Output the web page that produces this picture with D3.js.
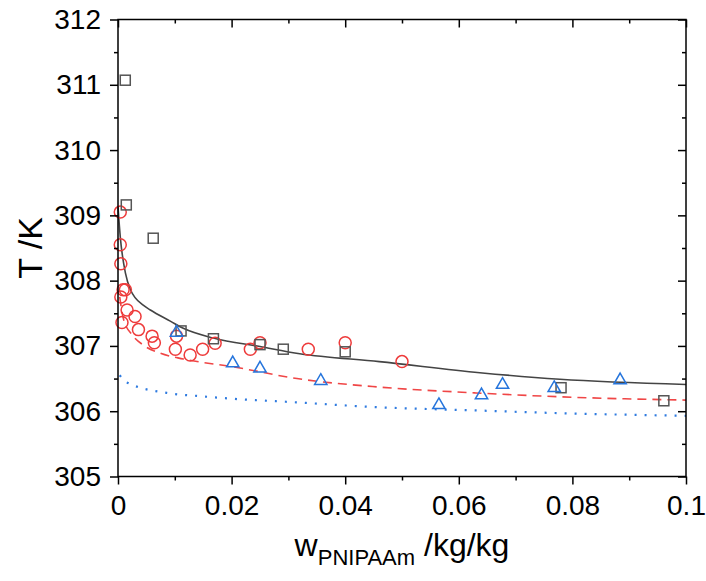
<!DOCTYPE html>
<html>
<head>
<meta charset="utf-8">
<script src="https://cdn.jsdelivr.net/npm/d3@7"></script>
<style>
  body { margin: 0; background: #fff; }
  text { font-family: Arial, "Liberation Sans", sans-serif; }
</style>
</head>
<body>
<div id="chart"></div>
<script>
const squareX = [0.00128, 0.00146, 0.0062, 0.0111, 0.0168, 0.025, 0.0291, 0.040, 0.078, 0.0961]
const squareT = [311.07, 309.16, 308.65, 307.23, 307.11, 307.02, 306.95, 306.91, 306.36, 306.16]

const circleX = [0.0004, 0.0004, 0.0005, 0.0009, 0.0013, 0.0005, 0.0016, 0.003, 0.0007, 0.0036, 0.006, 0.0064, 0.0103, 0.0101, 0.0127, 0.0149, 0.0171, 0.0233, 0.025, 0.0335, 0.040, 0.050]
const circleT = [309.05, 308.55, 308.26, 307.86, 307.86, 307.75, 307.55, 307.45, 307.36, 307.25, 307.15, 307.05, 307.15, 306.95, 306.86, 306.95, 307.04, 306.95, 307.05, 306.95, 307.05, 306.76]

const triX = [0.0103, 0.0202, 0.025, 0.0357, 0.0565, 0.064, 0.0677, 0.0768, 0.0884]
const triT = [307.22, 306.75, 306.67, 306.48, 306.11, 306.26, 306.42, 306.37, 306.49]

// model curves
const solidX = [0, 0.0004, 0.0013, 0.0022, 0.0045, 0.0057, 0.0092, 0.0115, 0.0168, 0.025, 0.032, 0.046, 0.0637, 0.0778, 0.1]
const solidT = [309.13, 308.67, 308.12, 307.86, 307.62, 307.55, 307.38, 307.27, 307.12, 306.99, 306.88, 306.76, 306.59, 306.49, 306.41]

const dashX = [0.0003, 0.001, 0.0025, 0.0045, 0.0074, 0.0115, 0.0203, 0.0315, 0.046, 0.063, 0.078, 0.1]
const dashT = [307.75, 307.4, 307.17, 307.01, 306.89, 306.80, 306.68, 306.5, 306.37, 306.28, 306.22, 306.17]

const dotX = [0.0003, 0.0016, 0.0086, 0.0145, 0.0221, 0.0286, 0.046, 0.0637, 0.0778, 0.1]
const dotT = [306.55, 306.44, 306.28, 306.23, 306.18, 306.15, 306.06, 306.01, 305.97, 305.93]

// ticks
const xTicks = [0, 0.02, 0.04, 0.06, 0.08, 0.1]
const xTickLabels = ['0', '0.02', '0.04', '0.06', '0.08', '0.1']
const xMinor = [0.01, 0.03, 0.05, 0.07, 0.09]
const yTicks = [305, 306, 307, 308, 309, 310, 311, 312]
const yMinor = [305.5, 306.5, 307.5, 308.5, 309.5, 310.5, 311.5]

const width = 706
const height = 581
const mLeft = 118, mRight = 686, mTop = 19.5, mBottom = 476.5

const svg = d3.select('#chart').append('svg')
  .attr('width', width).attr('height', height)
  .style('background', '#fff')

const xScale = d3.scaleLinear().domain([0, 0.1]).range([mLeft, mRight])
const yScale = d3.scaleLinear().domain([305, 312]).range([mBottom, mTop])

// zip x and y arrays
const zip = (xs, ys) => xs.map((x, i) => [x, ys[i]])

// curves first, symbols on top
const line = d3.line().x(d => xScale(d[0])).y(d => yScale(d[1])).curve(d3.curveMonotoneX)

svg.append('path').datum(zip(dotX, dotT))
  .attr('d', line).attr('fill', 'none')
  .attr('stroke', '#2f7be0').attr('stroke-width', 2.2)
  .attr('stroke-dasharray', '2,8').attr('stroke-linecap', 'butt')

svg.append('path').datum(zip(dashX, dashT))
  .attr('d', line).attr('fill', 'none')
  .attr('stroke', '#f04646').attr('stroke-width', 1.6)
  .attr('stroke-dasharray', '9,6')

svg.append('path').datum(zip(solidX, solidT))
  .attr('d', line).attr('fill', 'none')
  .attr('stroke', '#444').attr('stroke-width', 1.6)

// red circles
svg.selectAll('circle.pt').data(zip(circleX, circleT))
  .enter().append('circle')
  .attr('class', 'pt')
  .attr('cx', d => xScale(d[0])).attr('cy', d => yScale(d[1]))
  .attr('r', 6)
  .attr('fill', 'none').attr('stroke', '#ee3b3b').attr('stroke-width', 1.5)

// gray squares
svg.selectAll('rect.pt').data(zip(squareX, squareT))
  .enter().append('rect')
  .attr('class', 'pt')
  .attr('x', d => xScale(d[0]) - 5).attr('y', d => yScale(d[1]) - 5)
  .attr('width', 10).attr('height', 10)
  .attr('fill', 'none').attr('stroke', '#555').attr('stroke-width', 1.5)

// blue triangles
const tri = d3.symbol().type(d3.symbolTriangle).size(66)
svg.selectAll('path.tri').data(zip(triX, triT))
  .enter().append('path')
  .attr('class', 'tri')
  .attr('d', tri)
  .attr('transform', d => 'translate(' + xScale(d[0]) + ',' + (yScale(d[1]) + 1) + ')')
  .attr('fill', 'none').attr('stroke', '#2675dc').attr('stroke-width', 1.5)

// axes
function styleAxis(g) {
  g.select('.domain').remove()
  g.selectAll('.tick line').attr('stroke', '#000').attr('stroke-width', 1.5)
  g.selectAll('text').attr('fill', '#000').style('font-size', '28px')
    .style('font-family', 'Arial, "Liberation Sans", sans-serif')
}

// bottom
svg.append('g').attr('transform', 'translate(0,' + mBottom + ')')
  .call(d3.axisBottom(xScale).tickValues(xTicks).tickSize(8).tickPadding(11)
    .tickFormat((d, i) => xTickLabels[i]))
  .call(styleAxis)
svg.append('g').attr('transform', 'translate(0,' + mBottom + ')')
  .call(d3.axisBottom(xScale).tickValues(xMinor).tickSize(4).tickFormat(''))
  .call(styleAxis)
// top (inward)
svg.append('g').attr('transform', 'translate(0,' + mTop + ')')
  .call(d3.axisBottom(xScale).tickValues(xTicks).tickSize(8).tickFormat(''))
  .call(styleAxis)
svg.append('g').attr('transform', 'translate(0,' + mTop + ')')
  .call(d3.axisBottom(xScale).tickValues(xMinor).tickSize(4).tickFormat(''))
  .call(styleAxis)
// left
svg.append('g').attr('transform', 'translate(' + mLeft + ',0)')
  .call(d3.axisLeft(yScale).tickValues(yTicks).tickSize(8).tickPadding(9).tickFormat(d3.format('d')))
  .call(styleAxis)
svg.append('g').attr('transform', 'translate(' + mLeft + ',0)')
  .call(d3.axisLeft(yScale).tickValues(yMinor).tickSize(4).tickFormat(''))
  .call(styleAxis)
// right (inward)
svg.append('g').attr('transform', 'translate(' + mRight + ',0)')
  .call(d3.axisLeft(yScale).tickValues(yTicks).tickSize(8).tickFormat(''))
  .call(styleAxis)
svg.append('g').attr('transform', 'translate(' + mRight + ',0)')
  .call(d3.axisLeft(yScale).tickValues(yMinor).tickSize(4).tickFormat(''))
  .call(styleAxis)

// frame
svg.append('rect')
  .attr('x', mLeft).attr('y', mTop)
  .attr('width', mRight - mLeft).attr('height', mBottom - mTop)
  .attr('fill', 'none').attr('stroke', '#000').attr('stroke-width', 1.5)

// axis titles
const xTitle = svg.append('text')
  .attr('x', (mLeft + mRight) / 2).attr('y', 556)
  .attr('text-anchor', 'middle').style('font-size', '32px').attr('fill', '#000')
xTitle.append('tspan').text('w')
xTitle.append('tspan').attr('dy', 9).style('font-size', '22px').text('PNIPAAm')
xTitle.append('tspan').attr('dy', -9).text(' /kg/kg')

svg.append('text')
  .attr('transform', 'translate(42,' + ((mTop + mBottom) / 2) + ') rotate(-90)')
  .attr('text-anchor', 'middle').style('font-size', '34px').attr('fill', '#000')
  .text('T /K')
</script>
</body>
</html>
